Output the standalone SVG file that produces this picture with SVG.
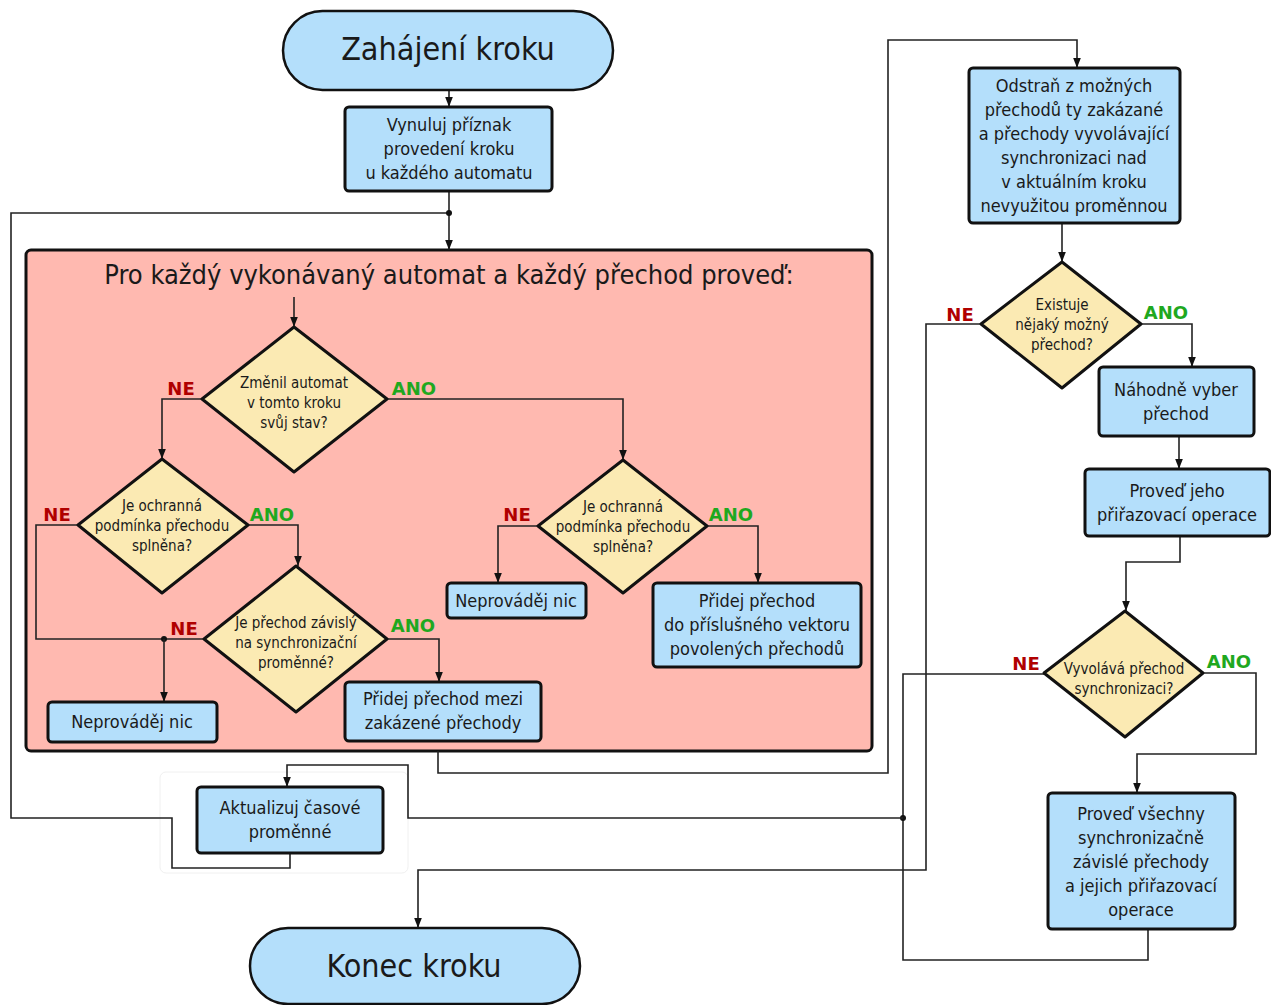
<svg xmlns="http://www.w3.org/2000/svg" width="1271" height="1005" viewBox="0 0 1271 1005">
  <defs>
    <marker id="arrow" viewBox="0 0 10 10" refX="10" refY="5" markerWidth="10" markerHeight="10" markerUnits="userSpaceOnUse" orient="auto">
      <path d="M0,1.2 L10,5 L0,8.8 Z" fill="#111"/>
    </marker>
    <style>
      text { font-family: "DejaVu Sans", "Liberation Sans", sans-serif; font-stretch: condensed; fill: #1a1a1a; text-anchor: middle; }
      .box { fill: #b4dffb; stroke: #111; stroke-width: 3; }
      .term { fill: #b4dffb; stroke: #111; stroke-width: 2.5; }
      .dia { fill: #fbeab3; stroke: #111; stroke-width: 3; stroke-linejoin: round; }
      .frame { fill: #ffb9b0; stroke: #111; stroke-width: 3; }
      .wire { fill: none; stroke: #222; stroke-width: 1.6; }
      .arr { marker-end: url(#arrow); }
      .t18 { font-size: 18px; }
      .t15 { font-size: 15px; }
      .big { font-size: 32px; }
      .title { font-size: 27px; }
      .ne { font-size: 18px; font-weight: bold; fill: #b00000; font-stretch: normal; }
      .ano { font-size: 18px; font-weight: bold; fill: #1fa81f; font-stretch: normal; }
    </style>
  </defs>

  <rect width="1271" height="1005" fill="#ffffff"/>

  <!-- loop container -->
  <g id="loop">
    <rect class="frame" x="26" y="250" width="846" height="501" rx="5"/>
    <text class="title" x="449" y="284">Pro každý vykonávaný automat a každý přechod proveď:</text>
  </g>

  <!-- faint panel behind the time update box -->
  <rect x="160" y="772" width="248" height="101" rx="6" fill="#ffffff" stroke="#f0f0f0" stroke-width="1"/>

  <!-- connectors -->
  <g id="connectors">
    <path class="wire arr" d="M449,90 V107"/>
    <path class="wire arr" d="M449,191 V250"/>
    <path class="wire" d="M290,853 V868 H172 V818 H11 V213 H449"/>
    <circle cx="449" cy="213" r="3" fill="#111"/>
    <path class="wire arr" d="M294,297 V327"/>
    <path class="wire arr" d="M202,399 H162 V459"/>
    <path class="wire arr" d="M387,399 H623 V460"/>
    <path class="wire" d="M78,525 H36 V639 H204"/>
    <circle cx="164" cy="639" r="3" fill="#111"/>
    <path class="wire arr" d="M164,639 V702"/>
    <path class="wire arr" d="M248,525 H298 V566"/>
    <path class="wire arr" d="M387,639 H439 V682"/>
    <path class="wire arr" d="M538,526 H498 V583"/>
    <path class="wire arr" d="M707,526 H758 V583"/>
    <path class="wire arr" d="M438,751 V773 H888 V40 H1077 V68"/>
    <path class="wire arr" d="M1062,223 V262"/>
    <path class="wire arr" d="M981,324 H926 V870 H418 V928"/>
    <path class="wire arr" d="M1141,324 H1192 V367"/>
    <path class="wire arr" d="M1179,436 V469"/>
    <path class="wire arr" d="M1180,536 V562 H1126 V611"/>
    <path class="wire" d="M1044,674 H903 V960 H1148 V929"/>
    <circle cx="903" cy="818" r="3" fill="#111"/>
    <path class="wire arr" d="M903,818 H408 V765 H287 V787"/>
    <path class="wire arr" d="M1203,673 H1256 V754 H1137 V793"/>
  </g>

  <!-- branch labels -->
  <g id="labels">
    <text class="ne" x="181" y="395">NE</text>
    <text class="ano" x="414" y="395">ANO</text>
    <text class="ne" x="57" y="521">NE</text>
    <text class="ano" x="272" y="521">ANO</text>
    <text class="ne" x="184" y="635">NE</text>
    <text class="ano" x="413" y="632">ANO</text>
    <text class="ne" x="517" y="521">NE</text>
    <text class="ano" x="731" y="521">ANO</text>
    <text class="ne" x="960" y="321">NE</text>
    <text class="ano" x="1166" y="319">ANO</text>
    <text class="ne" x="1026" y="670">NE</text>
    <text class="ano" x="1229" y="668">ANO</text>
  </g>

  <g id="start">
    <rect class="term" x="283" y="11" width="330" height="79" rx="39.5"/>
    <text class="big" x="448" y="60">Zahájení kroku</text>
  </g>

  <g id="reset-flags">
    <rect class="box" x="345" y="107" width="207" height="84" rx="4"/>
    <text class="t18" x="449" y="131">Vynuluj příznak</text>
    <text class="t18" x="449" y="155">provedení kroku</text>
    <text class="t18" x="449" y="179">u každého automatu</text>
  </g>

  <g id="changed-state">
    <polygon class="dia" points="294,327 387,399 294,472 202,399"/>
    <text class="t15" x="294" y="388">Změnil automat</text>
    <text class="t15" x="294" y="408">v tomto kroku</text>
    <text class="t15" x="294" y="428">svůj stav?</text>
  </g>

  <g id="guard-left">
    <polygon class="dia" points="162,459 248,525 162,593 78,525"/>
    <text class="t15" x="162" y="511">Je ochranná</text>
    <text class="t15" x="162" y="531">podmínka přechodu</text>
    <text class="t15" x="162" y="551">splněna?</text>
  </g>

  <g id="guard-right">
    <polygon class="dia" points="623,460 707,526 623,593 538,526"/>
    <text class="t15" x="623" y="512">Je ochranná</text>
    <text class="t15" x="623" y="532">podmínka přechodu</text>
    <text class="t15" x="623" y="552">splněna?</text>
  </g>

  <g id="sync-dependent">
    <polygon class="dia" points="296,566 387,639 296,712 204,639"/>
    <text class="t15" x="296" y="628">Je přechod závislý</text>
    <text class="t15" x="296" y="648">na synchronizační</text>
    <text class="t15" x="296" y="668">proměnné?</text>
  </g>

  <g id="noop-left">
    <rect class="box" x="48" y="702" width="169" height="40" rx="4"/>
    <text class="t18" x="132" y="728">Neprováděj nic</text>
  </g>

  <g id="add-forbidden">
    <rect class="box" x="345" y="682" width="196" height="59" rx="4"/>
    <text class="t18" x="443" y="705">Přidej přechod mezi</text>
    <text class="t18" x="443" y="729">zakázené přechody</text>
  </g>

  <g id="noop-right">
    <rect class="box" x="447" y="583" width="139" height="35" rx="4"/>
    <text class="t18" x="516" y="607">Neprováděj nic</text>
  </g>

  <g id="add-enabled">
    <rect class="box" x="653" y="583" width="208" height="84" rx="4"/>
    <text class="t18" x="757" y="607">Přidej přechod</text>
    <text class="t18" x="757" y="631">do příslušného vektoru</text>
    <text class="t18" x="757" y="655">povolených přechodů</text>
  </g>

  <g id="filter-transitions">
    <rect class="box" x="969" y="68" width="211" height="155" rx="4"/>
    <text class="t18" x="1074" y="92">Odstraň z možných</text>
    <text class="t18" x="1074" y="116">přechodů ty zakázané</text>
    <text class="t18" x="1074" y="140">a přechody vyvolávající</text>
    <text class="t18" x="1074" y="164">synchronizaci nad</text>
    <text class="t18" x="1074" y="188">v aktuálním kroku</text>
    <text class="t18" x="1074" y="212">nevyužitou proměnnou</text>
  </g>

  <g id="any-possible">
    <polygon class="dia" points="1062,262 1141,324 1062,388 981,324"/>
    <text class="t15" x="1062" y="310">Existuje</text>
    <text class="t15" x="1062" y="330">nějaký možný</text>
    <text class="t15" x="1062" y="350">přechod?</text>
  </g>

  <g id="pick-random">
    <rect class="box" x="1099" y="367" width="155" height="69" rx="4"/>
    <text class="t18" x="1176" y="396">Náhodně vyber</text>
    <text class="t18" x="1176" y="420">přechod</text>
  </g>

  <g id="run-assignments">
    <rect class="box" x="1085" y="469" width="185" height="67" rx="4"/>
    <text class="t18" x="1177" y="497">Proveď jeho</text>
    <text class="t18" x="1177" y="521">přiřazovací operace</text>
  </g>

  <g id="triggers-sync">
    <polygon class="dia" points="1125,611 1203,673 1125,737 1044,673"/>
    <text class="t15" x="1124" y="674">Vyvolává přechod</text>
    <text class="t15" x="1124" y="694">synchronizaci?</text>
  </g>

  <g id="run-sync">
    <rect class="box" x="1048" y="793" width="187" height="136" rx="4"/>
    <text class="t18" x="1141" y="820">Proveď všechny</text>
    <text class="t18" x="1141" y="844">synchronizačně</text>
    <text class="t18" x="1141" y="868">závislé přechody</text>
    <text class="t18" x="1141" y="892">a jejich přiřazovací</text>
    <text class="t18" x="1141" y="916">operace</text>
  </g>

  <g id="update-time">
    <rect class="box" x="197" y="787" width="186" height="66" rx="4"/>
    <text class="t18" x="290" y="814">Aktualizuj časové</text>
    <text class="t18" x="290" y="838">proměnné</text>
  </g>

  <g id="end">
    <rect class="term" x="250" y="928" width="330" height="76" rx="38"/>
    <text class="big" x="414" y="977">Konec kroku</text>
  </g>
</svg>
